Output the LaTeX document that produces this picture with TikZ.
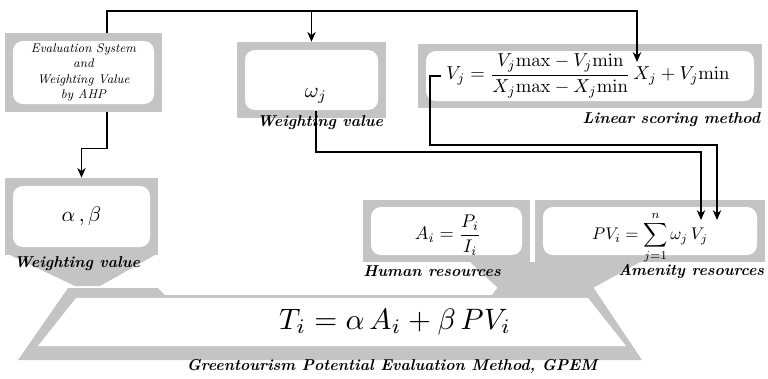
\documentclass[tikz,border=0pt]{standalone}
\usepackage{amsmath}
\usepackage{tikz}
\usetikzlibrary{arrows.meta,calc}
\definecolor{FrameGray}{RGB}{196,196,196}

\begin{document}
\begin{tikzpicture}[x=0.025cm,y=-0.025cm,>={Stealth[length=7pt,width=6pt]},
  panel/.style 2 args={fill=FrameGray,inner sep=0pt,minimum width=#1*0.025cm,minimum height=#2*0.025cm},
  card/.style 2 args={fill=white,rounded corners=7pt,inner sep=0pt,minimum width=#1*0.025cm,minimum height=#2*0.025cm},
  caption/.style={font=\bfseries\itshape,scale=1.12,inner sep=1pt},
  flow/.style={->,thick}]
  \useasboundingbox (0,0) rectangle (768,378);

  % funnels into the GPEM box
  \fill[FrameGray] (10,255) -- (155,255) -- (100,286) -- (75,286) -- cycle;
  \fill[FrameGray] (470,262) -- (640,262) -- (593,288) -- (498,288) -- cycle;
  \fill[FrameGray] (68,288) -- (158,288) -- (165,295) -- (492,295) -- (498,287) -- (593,287) -- (642,360) -- (18,360) -- cycle;
  \fill[white] (76,298) -- (588,298) -- (626,346) -- (38,346) -- cycle;
  \node[scale=2.1] (tf) at (395,322) {$T_i=\alpha\,A_i+\beta\,PV_i$};
  \node[caption] (tcap) at (392,366) {Greentourism Potential Evaluation Method, GPEM};

  \node[panel={157}{79}] (ahp) at (83.5,72.5) {};
  \node[card={141}{63},align=center,font=\small\itshape] (ahptxt) at (ahp)
    {Evaluation System\\and\\Weighting Value\\by AHP};

  \node[panel={153}{77}] (ab) at (81.5,216.5) {};
  \node[card={137}{61}] (abcard) at (ab) {};
  \node[scale=1.5] (absym) at (ab) {$\alpha\,,\beta$};
  \node[caption] (abcap) at (77,264) {Weighting value};

  \node[panel={149}{76}] (wbox) at (311.5,80) {};
  \node[card={133}{60}] (wcard) at (wbox) {};
  \node[scale=1.5] (wsym) at (316,96) {$\omega_j$};
  \node[caption] (wcap) at (320,123) {Weighting value};

  \node[panel={344}{64}] (lin) at (590,76) {};
  \node[card={328}{50}] (lincard) at (lin) {};
  \node[scale=1.33] (linf) at (588,76)
    {$\displaystyle V_j=\frac{V_j\mathrm{max}-V_j\mathrm{min}}{X_j\mathrm{max}-X_j\mathrm{min}}\,X_j+V_j\mathrm{min}$};
  \node[caption,anchor=east] (lincap) at (762,120) {Linear scoring method};

  \node[panel={167}{62}] (hum) at (446.5,231) {};
  \node[card={151}{48}] (humcard) at (hum) {};
  \node[scale=1.3] (humf) at (448,235) {$A_i=\dfrac{P_i}{I_i}$};
  \node[caption] (humcap) at (432,271) {Human resources};

  \node[panel={230}{62}] (ame) at (650,231) {};
  \node[card={214}{48}] (amecard) at (ame) {};
  \node[scale=1.2] (amef) at (650,238) {$\displaystyle PV_i=\sum_{j=1}^{n}\omega_j\,V_j$};
  \node[caption,anchor=east] (amecap) at (766,271) {Amenity resources};

  % connectors
  \coordinate (hub) at (107,11);
  \coordinate (xj) at (637,62);
  \coordinate (wj) at (701,220);
  \coordinate (vj) at (717,220);
  \coordinate (vjstart) at (441,76);
  \draw[flow] (hub |- ahp.north) -- (hub) -| (xj);
  \draw[flow] (hub -| wbox.north) -- (wbox.north);
  \draw[flow] (hub |- ahp.south) -- ++(0,36) -| (ab.north);
  \draw[flow] (wsym.south) |- ($(wj)+(0,-68)$) -- (wj);
  \draw[flow] (vjstart) -- ++(-11,0) |- ($(vj)+(0,-75)$) -- (vj);
\end{tikzpicture}
\end{document}
